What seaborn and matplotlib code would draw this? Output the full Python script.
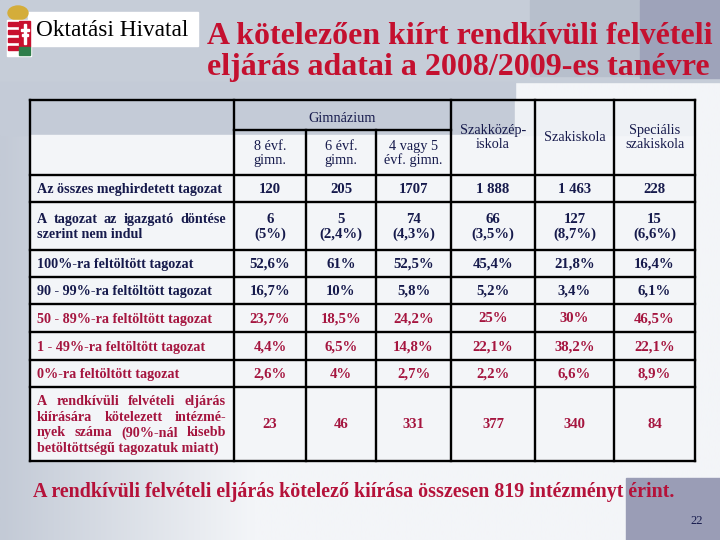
import numpy as np
import matplotlib
matplotlib.use("Agg")
import matplotlib.pyplot as plt
import matplotlib.patches as mpatches
import seaborn as sns

# --- data -------------------------------------------------------------
title_lines = ["A kötelezően kiírt rendkívüli felvételi",
               "eljárás adatai a 2008/2009-es tanévre"]
group_header = "Gimnázium"
col_headers = ["8 évf.\ngimn.", "6 évf.\ngimn.", "4 vagy 5\névf. gimn.",
               "Szakközép-\niskola", "Szakiskola", "Speciális\nszakiskola"]
row_labels = [
    "Az összes meghirdetett tagozat",
    "A tagozat az igazgató döntése\nszerint nem indul",
    "100%-ra feltöltött tagozat",
    "90 - 99%-ra feltöltött tagozat",
    "50 - 89%-ra feltöltött tagozat",
    "1 - 49%-ra feltöltött tagozat",
    "0%-ra feltöltött tagozat",
    "A rendkívüli felvételi eljárás\nkiírására kötelezett intézmé-\n"
    "nyek száma (90%-nál kisebb\nbetöltöttségű tagozatuk miatt)",
]
gimn8 = ["120", "6\n(5%)", "52,6%", "16,7%", "23,7%", "4,4%", "2,6%", "23"]
gimn6 = ["205", "5\n(2,4%)", "61%", "10%", "18,5%", "6,5%", "4%", "46"]
gimn45 = ["1707", "74\n(4,3%)", "52,5%", "5,8%", "24,2%", "14,8%", "2,7%", "331"]
szakkozep = ["1 888", "66\n(3,5%)", "45,4%", "5,2%", "25%", "22,1%", "2,2%", "377"]
szakiskola = ["1 463", "127\n(8,7%)", "21,8%", "3,4%", "30%", "38,2%", "6,6%", "340"]
specialis = ["228", "15\n(6,6%)", "16,4%", "6,1%", "46,5%", "22,1%", "8,9%", "84"]
columns = [gimn8, gimn6, gimn45, szakkozep, szakiskola, specialis]
footnote = "A rendkívüli felvételi eljárás kötelező kiírása összesen 819 intézményt érint."
page_no = "22"
office = "Oktatási Hivatal"

# --- style ------------------------------------------------------------
sns.set_theme(style="white")
plt.rcParams['font.family'] = ['Liberation Serif', 'DejaVu Serif']

NAVY = "#161a4c"
CRIMSON = "#a5153f"
TITLE_RED = "#c4102f"

fig = plt.figure(figsize=(7.2, 5.4), dpi=100)
ax = fig.add_axes([0, 0, 1, 1])
ax.set_xlim(0, 720)
ax.set_ylim(540, 0)
ax.axis("off")
renderer = fig.canvas.get_renderer()

# background
grad = np.linspace(0, 1, 256)
c0 = np.array(matplotlib.colors.to_rgb("#c3cad6"))
c1 = np.array(matplotlib.colors.to_rgb("#f3f5f8"))
w = np.clip(grad / 0.35, 0, 1)[None, :, None]
img = c0 * (1 - w) + c1 * w
ax.imshow(img, extent=(0, 720, 540, 0), aspect="auto", zorder=0)
ax.add_patch(mpatches.Rectangle((0, 0), 720, 82, color="#c6cdd8", zorder=0.5))
ax.add_patch(mpatches.Rectangle((0, 82), 515, 53, color="#c4cbd7", zorder=0.5))
ax.add_patch(mpatches.Rectangle((530, 0), 110, 76, color="#b7bfcc", zorder=0.6))
ax.add_patch(mpatches.Rectangle((640, 0), 80, 78, color="#9ea3ba", zorder=0.6))
ax.add_patch(mpatches.Rectangle((626, 478), 94, 62, color="#9a9db6", zorder=0.6))
ax.add_patch(mpatches.Rectangle((28, 12), 170, 34, color="white", zorder=1))

# coat of arms (simple)
ax.add_patch(mpatches.Ellipse((18, 13), 20, 14, color="#d4ad3a", zorder=2))
ax.add_patch(mpatches.Rectangle((7, 20), 24, 36, color="white", zorder=2))
for k in range(4):
    ax.add_patch(mpatches.Rectangle((8, 22 + k * 8), 10, 4, color="#c8102e", zorder=3))
ax.add_patch(mpatches.Rectangle((19, 21), 11, 26, color="#c8102e", zorder=3))
ax.add_patch(mpatches.Rectangle((23.5, 24), 2, 20, color="white", zorder=4))
ax.add_patch(mpatches.Rectangle((20.5, 29), 8, 2, color="white", zorder=4))
ax.add_patch(mpatches.Rectangle((21.5, 34), 6, 2, color="white", zorder=4))
ax.add_patch(mpatches.Rectangle((19, 47), 11, 8, color="#2e7d4a", zorder=3))


def fit(x, y, s, width, **kw):
    t = ax.text(x, y, s, **kw)
    bb = t.get_window_extent(renderer)
    t.set_fontsize(t.get_fontsize() * width / bb.width)
    return t


def justify(x0, x1, y, line, **kw):
    words = line.split(" ")
    ts = [ax.text(0, y, wd, ha="left", va="center", **kw) for wd in words]
    widths = [t.get_window_extent(renderer).width for t in ts]
    gap = (x1 - x0 - sum(widths)) / max(len(words) - 1, 1)
    x = x0
    for t, wd in zip(ts, widths):
        t.set_x(x)
        x += wd + gap


fit(36, 30, office, 152, fontsize=17, color="black", va="center", ha="left", zorder=5)

# title
fit(207, 37, title_lines[0], 506, fontsize=24, fontweight="bold", color=TITLE_RED,
    va="center", ha="left", zorder=5)
fit(207, 68, title_lines[1], 504, fontsize=24, fontweight="bold", color=TITLE_RED,
    va="center", ha="left", zorder=5)

# --- table ------------------------------------------------------------
xe = [30, 234, 306, 376, 451, 535, 614, 695]
ye = [100, 130, 175, 202, 250, 277, 304, 332, 360, 387, 461]

ax.add_patch(mpatches.Rectangle((30, 135), 665, 326, color="#f3f5f8", zorder=1))
ax.add_patch(mpatches.Rectangle((515, 100), 180, 35, color="#eef1f5", zorder=1))

lw = 1.7
lk = dict(color="black", lw=lw, zorder=6, solid_capstyle="projecting")
for x in [30, 234, 451, 535, 614, 695]:
    ax.plot([x, x], [100, 461], **lk)
for x in [306, 376]:
    ax.plot([x, x], [130, 461], **lk)
ax.plot([30, 695], [100, 100], **lk)
ax.plot([234, 451], [130, 130], **lk)
for y in ye[2:]:
    ax.plot([30, 695], [y, y], **lk)

hdr = dict(fontsize=10.3, color=NAVY, ha="center", va="center", zorder=7,
           linespacing=1.1)
ax.text((xe[1] + xe[4]) / 2, 118, group_header, **hdr)
for j, h in enumerate(col_headers):
    cx = (xe[j + 1] + xe[j + 2]) / 2
    cy = (ye[1] + ye[2]) / 2 + 1 if j < 3 else (ye[0] + ye[2]) / 2
    ax.text(cx, cy, h, **hdr)

lab_kw = dict(fontsize=10.2, fontweight="bold", zorder=7)
num_kw = dict(fontsize=10.6, fontweight="bold", zorder=7)
for i, lab in enumerate(row_labels):
    col = NAVY if i < 4 else CRIMSON
    y0, y1 = ye[i + 2], ye[i + 3]
    lines = lab.split("\n")
    step = 15.8
    ystart = (y0 + y1) / 2 - step * (len(lines) - 1) / 2 + 1
    for k, ln in enumerate(lines):
        yy = ystart + k * step
        if k < len(lines) - 1:
            justify(37, 226, yy, ln, color=col, **lab_kw)
        else:
            ax.text(37, yy, ln, ha="left", va="center", color=col, **lab_kw)
    for j, vals in enumerate(columns):
        cx = (xe[j + 1] + xe[j + 2]) / 2
        ax.text(cx, (y0 + y1) / 2 + 1, vals[i], ha="center", va="center",
                color=col, linespacing=1.15, **num_kw)

# footnote
fit(33, 492, footnote, 643, fontsize=15, fontweight="bold", color="#b5123a",
    va="center", ha="left", zorder=5)
ax.text(697, 521, page_no, fontsize=9, color=NAVY, ha="center", va="center", zorder=5)

fig.savefig("out.png", dpi=100)
